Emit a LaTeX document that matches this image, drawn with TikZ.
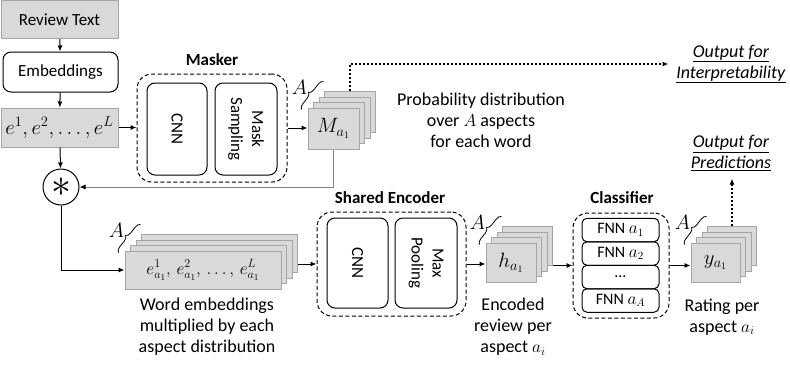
\documentclass[tikz,border=0pt]{standalone}
\usepackage{fontspec}
\setmainfont{Carlito}
\usetikzlibrary{arrows.meta,calc,decorations.pathreplacing,positioning}

\tikzset{every picture/.style={line width=1pt}}
\tikzset{
  graybox/.style={draw=black!35, fill=black!15, inner sep=2pt},
  roundbox/.style={draw, rounded corners=8pt, fill=white, inner sep=2pt},
  groupbox/.style={draw, dash pattern=on 4pt off 2.5pt, rounded corners=15pt},
  fnnbox/.style={draw, rounded corners=5pt, minimum width=77pt, minimum height=23.5pt, inner sep=0pt, font=\fontsize{16}{18}\selectfont},
  stackbox/.style={draw=black!35, fill=black!15, inner sep=0pt},
  mathlabel/.style={font=\fontsize{20}{22}\selectfont},
  aspectbrace/.style={decorate, decoration={brace, amplitude=5pt}, line width=0.8pt},
  flow/.style={-{Latex[length=6pt,width=5pt,color=black]}},
  outflow/.style={dash pattern=on 2pt off 2pt, line width=2pt, -{Latex[length=6pt,width=5pt]}},
  grouptitle/.style={font=\fontsize{17}{20}\bfseries\selectfont},
  caption/.style={align=center, font=\fontsize{18}{21}\selectfont},
  multop/.style={circle, draw, minimum size=36pt, inner sep=0pt},
}

% stack of A copies: name, x, y, width, height, label
\newcommand{\aspectstack}[6]{%
  \foreach \k in {3,2,1}
    \node[stackbox, minimum width=#4pt, minimum height=#5pt] (#1\k) at (#2+5.5*\k,#3-5.5*\k) {};
  \node[stackbox, mathlabel, minimum width=#4pt, minimum height=#5pt] (#1) at (#2,#3) {#6};
  \draw[aspectbrace] ($(#1.north west)+(-6,2)$) -- ($(#1.north west)+(16,-26)$);
  \node[mathlabel, inner sep=0pt] (#1A) at ($(#1.north west)+(-8,-20)$) {$A$};
}

\begin{document}
\begin{tikzpicture}[x=1pt,y=1pt,yscale=-1,font=\fontsize{17}{21}\selectfont]
\useasboundingbox (0,0) rectangle (790,367);

% input column
\node[graybox, minimum width=117pt, minimum height=38pt] (review) at (59.5,19.5) {Review Text};
\node[roundbox, minimum width=115pt, minimum height=40pt] (emb) at (60.5,72) {Embeddings};
\node[graybox, mathlabel, minimum width=117pt, minimum height=39pt] (words) at (59.5,127.5) {$e^1, e^2, \dots, e^L$};
\node[multop] (mult) at (61,187) {\scalebox{2.3}{$\ast$}};
\draw[flow] (review) -- (emb);
\draw[flow] (emb) -- (words);
\draw[flow] (words) -- (mult);

% masker
\node[groupbox, minimum width=150pt, minimum height=108pt] (masker) at (212,128) {};
\node[grouptitle] (maskertitle) at (212,60) {Masker};
\node[roundbox, minimum width=92pt, minimum height=60pt, rotate=-90] (mcnn) at (177,129) {CNN};
\node[roundbox, align=center, minimum width=92pt, minimum height=62pt, rotate=-90] (msample) at (246,129) {Mask\\Sampling};
\draw[flow] (words.east) -- (words.east -| masker.west);

\aspectstack{mask}{333.5}{128.5}{51}{41}{$M_{a_1}$}
\draw[flow] (masker.east) -- (masker.east -| mask.west);
\draw[flow, draw=gray] (mask.south) |- (mult.east);

% interpretability output
\node[caption] (probtext) at (481,120) {Probability distribution\\over $A$ aspects\\for each word};
\node[caption] (interp) at (731,64) {\underline{\textit{Output for}}\\\underline{\textit{Interpretability}}};
\draw[outflow, shorten >=4pt] (mask3.north) |- (interp.west);

% second row
\aspectstack{wordsa}{203}{270}{156}{38}{\fontsize{18}{20}\selectfont$e^{1}_{a_1},\, e^{2}_{a_1},\, \dots,\, e^{L}_{a_1}$}
\draw[flow] (mult.south) |- (wordsa.west);
\node[caption] (wordsacap) at (207,327) {Word embeddings\\multiplied by each\\aspect distribution};

% shared encoder
\node[groupbox, minimum width=149pt, minimum height=104pt] (encoder) at (391.5,264) {};
\node[grouptitle] (encodertitle) at (390,198) {Shared Encoder};
\node[roundbox, minimum width=90pt, minimum height=61pt, rotate=-90] (ecnn) at (357.5,263) {CNN};
\node[roundbox, align=center, minimum width=90pt, minimum height=62pt, rotate=-90] (epool) at (426,263) {Max\\Pooling};
\draw[flow] (wordsa3.east |- encoder.west) -- (encoder.west);

\aspectstack{hid}{511}{262.5}{50}{39}{$h_{a_1}$}
\draw[flow] (encoder.east) -- (encoder.east -| hid.west);
\node[caption] (hidcap) at (513,327) {Encoded\\review per\\aspect $a_i$};

% classifier
\node[groupbox, minimum width=96pt, minimum height=105pt] (classifier) at (621,265.5) {};
\node[grouptitle] (classtitle) at (622,198) {Classifier};
\foreach \lab [count=\i] in {FNN $a_1$, FNN $a_2$, \dots, FNN $a_A$}
  \node[fnnbox] (fnn\i) at (620.5,206.5+23.5*\i) {\lab};
\draw[flow] (hid3.east |- classifier.west) -- (classifier.west);

\aspectstack{rate}{715.5}{262.5}{49}{39}{$y_{a_1}$}
\draw[flow] (classifier.east) -- (classifier.east -| rate.west);
\node[caption] (ratecap) at (722,317) {Rating per\\aspect $a_i$};

% prediction output
\node[caption] (predict) at (731,153) {\underline{\textit{Output for}}\\\underline{\textit{Predictions}}};
\draw[outflow, shorten >=4pt] (rate3.north) -- (rate3.north |- predict.south);

\end{tikzpicture}
\end{document}
